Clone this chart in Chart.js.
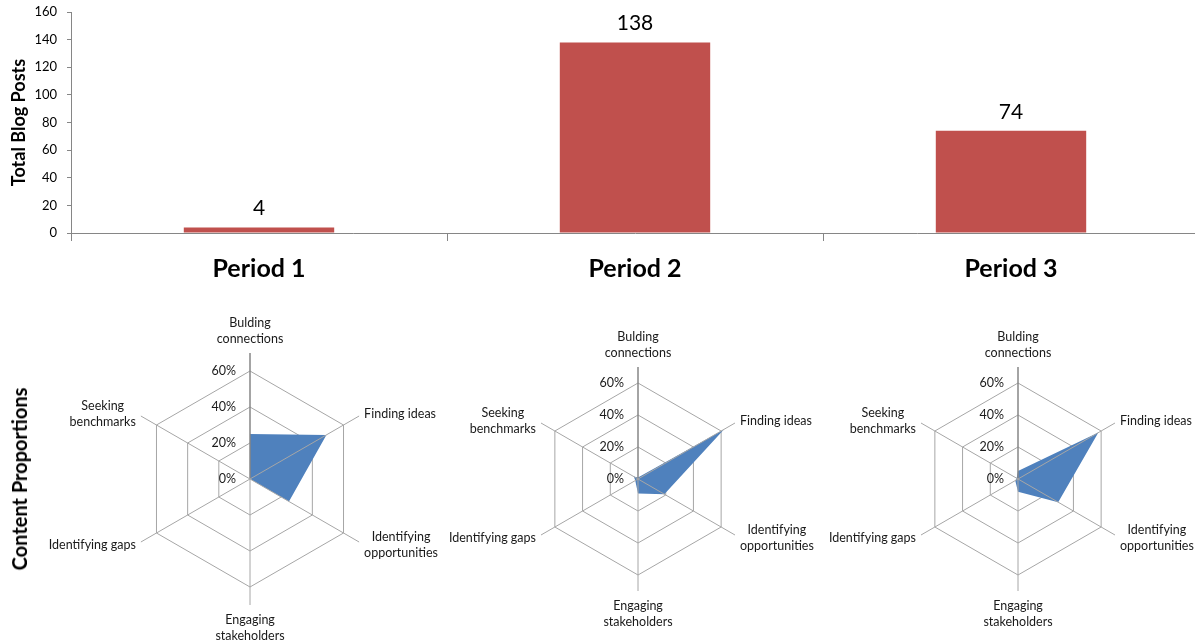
<!DOCTYPE html>
<html>
<head>
<meta charset="utf-8">
<script src="https://cdn.jsdelivr.net/npm/chart.js@4.4.1/dist/chart.umd.min.js"></script>
<style>
  html, body { margin: 0; padding: 0; background: #fff; overflow: hidden; }
  body { width: 1195px; height: 642px; position: relative; font-family: Lato, sans-serif; }
  canvas { position: absolute; }
  #bars { left: 0; top: 0; }
  #radar1 { left: 0; top: 300px; }
  #radar2 { left: 445px; top: 300px; }
  #radar3 { left: 825px; top: 300px; }
  .side-title {
    position: absolute; left: 19px; top: 479px;
    transform: translate(-50%, -50%) rotate(-90deg);
    font: bold 20px Lato, sans-serif; color: #000; white-space: nowrap;
  }
</style>
</head>
<body>
<canvas id="bars" width="1199" height="295"></canvas>
<canvas id="radar1" width="445" height="342"></canvas>
<canvas id="radar2" width="380" height="342"></canvas>
<canvas id="radar3" width="370" height="342"></canvas>
<div class="side-title">Content Proportions</div>
<script>
// top chart
const periods = ["Period 1", "Period 2", "Period 3"];
const totalPosts = [4, 138, 74];
const postTicks = [0, 20, 40, 60, 80, 100, 120, 140, 160];

// radar charts (percent of posts per content type)
const contentTypes = [
  ["Bulding", "connections"],
  "Finding ideas",
  ["Identifying", "opportunities"],
  ["Engaging", "stakeholders"],
  "Identifying gaps",
  ["Seeking", "benchmarks"]
];
const period1Share = [25, 49, 25, 0, 0, 0];
const period2Share = [1, 62, 19, 9, 2, 3];
const period3Share = [5, 58, 29, 8, 2, 1];
const shareTicks = [0, 20, 40, 60];

const FONT = "Lato";

// value labels above the bars
const barLabels = {
  id: "barLabels",
  afterDatasetsDraw(chart) {
    const ctx = chart.ctx;
    const meta = chart.getDatasetMeta(0);
    ctx.save();
    ctx.font = `21px ${FONT}`;
    ctx.fillStyle = "#000";
    ctx.textAlign = "center";
    ctx.textBaseline = "alphabetic";
    meta.data.forEach((bar, i) => {
      ctx.fillText(chart.data.datasets[0].data[i], bar.x, bar.y - 12);
    });
    ctx.restore();
  }
};

new Chart(document.getElementById("bars"), {
  type: "bar",
  data: {
    labels: periods,
    datasets: [{
      data: totalPosts,
      backgroundColor: "#C0504D",
      barPercentage: 0.4,
      categoryPercentage: 1
    }]
  },
  options: {
    responsive: false,
    animation: false,
    layout: { padding: 0 },
    plugins: { legend: { display: false }, tooltip: { enabled: false } },
    scales: {
      x: {
        grid: { offset: true, drawOnChartArea: false, tickLength: 8, color: "#868686" },
        border: { color: "#868686" },
        ticks: { color: "#000", font: { family: FONT, size: 25, weight: "bold" }, padding: 13 },
        afterFit: s => { s.height = 62; }
      },
      y: {
        min: 0,
        max: 160,
        afterBuildTicks: s => { s.ticks = postTicks.map(v => ({ value: v })); },
        grid: { drawOnChartArea: false, tickLength: 4, color: "#868686" },
        border: { color: "#868686" },
        ticks: { color: "#000", font: { family: FONT, size: 13 }, padding: 10 },
        title: {
          display: true,
          text: "Total Blog Posts",
          color: "#000",
          font: { family: FONT, size: 18, weight: "bold" },
          padding: { top: 8, bottom: 0 }
        },
        afterFit: s => {
          s.width = 71;
          s.paddingTop = 12;
          s.paddingBottom = 8;
        }
      }
    }
  },
  plugins: [barLabels]
});

// spokes over the fill, percent labels and category names
const radarExtras = {
  id: "radarExtras",
  afterDatasetsDraw(chart) {
    const s = chart.scales.r;
    const ctx = chart.ctx;
    const outer = s.getDistanceFromCenterForValue(s.max);
    ctx.save();

    chart.data.labels.forEach((lab, i) => {
      const p = s.getPointPosition(i, outer);
      ctx.beginPath();
      ctx.strokeStyle = i === 0 ? "#868686" : "#A6A6A6";
      ctx.lineWidth = i === 0 ? 1.5 : 1;
      ctx.moveTo(s.xCenter, s.yCenter);
      ctx.lineTo(p.x, p.y);
      ctx.stroke();
    });

    ctx.font = `12.5px ${FONT}`;
    ctx.fillStyle = "#1a1a1a";
    ctx.textBaseline = "middle";

    ctx.textAlign = "right";
    s.ticks.forEach(t => {
      const y = s.yCenter - s.getDistanceFromCenterForValue(t.value);
      ctx.fillText(t.value + "%", s.xCenter - 14, y);
    });

    ctx.textAlign = "center";
    chart.data.labels.forEach((lab, i) => {
      const lines = Array.isArray(lab) ? lab : [lab];
      const n = lines.length;
      const p = s.getPointPosition(i, outer);
      const dx = p.x - s.xCenter;
      const dy = p.y - s.yCenter;
      if (Math.abs(dx) < 1) {
        lines.forEach((line, k) => {
          const y = dy < 0 ? p.y - 14 - (n - 1 - k) * 16 : p.y + 15 + k * 16;
          ctx.fillText(line, p.x, y);
        });
      } else {
        const w = Math.max(...lines.map(l => ctx.measureText(l).width));
        const cx = dx > 0 ? p.x + 5 + w / 2 : p.x - 5 - w / 2;
        const cy = p.y + (dy < 0 ? -2 : 3);
        lines.forEach((line, k) => {
          ctx.fillText(line, cx, cy + (k - (n - 1) / 2) * 16);
        });
      }
    });
    ctx.restore();
  }
};

function makeRadar(id, values, cx, cy, radius) {
  return new Chart(document.getElementById(id), {
    type: "radar",
    data: {
      labels: contentTypes,
      datasets: [{
        data: values,
        backgroundColor: "#4F81BD",
        borderWidth: 0,
        pointRadius: 0,
        fill: true
      }]
    },
    options: {
      responsive: false,
      animation: false,
      plugins: { legend: { display: false }, tooltip: { enabled: false } },
      scales: {
        r: {
          min: 0,
          max: 70,
          afterBuildTicks: s => { s.ticks = shareTicks.map(v => ({ value: v })); },
          afterFit: s => { s.xCenter = cx; s.yCenter = cy; s.drawingArea = radius; },
          ticks: { display: false },
          pointLabels: { display: false },
          angleLines: { display: false },
          grid: { color: "#A6A6A6", lineWidth: 1 }
        }
      }
    },
    plugins: [radarExtras]
  });
}

makeRadar("radar1", period1Share, 250, 179, 126);
makeRadar("radar2", period2Share, 193, 179, 112);
makeRadar("radar3", period3Share, 193, 179, 112);
</script>
</body>
</html>
